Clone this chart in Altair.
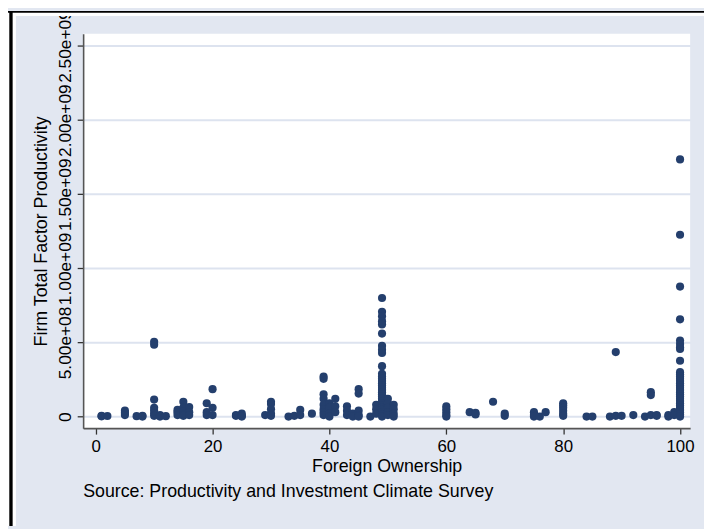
import altair as alt
import pandas as pd

# Foreign ownership levels (%) and firm TFP values at each level (in billions)
own_levels = [1, 2, 5, 7, 8, 10, 11, 12, 14, 15, 16, 19, 20, 24, 25, 29, 30, 33, 34, 35,
              37, 39, 40, 41, 43, 44, 45, 47, 48, 49, 50, 51, 60, 64, 65, 68, 70, 75, 76,
              77, 80, 84, 85, 88, 89, 90, 92, 94, 95, 96, 98, 99, 100]
tfp_by_level = [
    [0.005, 0.002], [0.004], [0.04, 0.025, 0.01], [0.003], [0.005, 0.0],
    [0.505, 0.485, 0.115, 0.06, 0.04, 0.02, 0.005], [0.01, 0.0], [0.003],
    [0.045, 0.03, 0.01], [0.1, 0.06, 0.035, 0.015, 0.005], [0.065, 0.03, 0.01],
    [0.09, 0.03, 0.01], [0.185, 0.06, 0.01], [0.01, 0.005], [0.02, 0.005, 0.0],
    [0.01], [0.1, 0.085, 0.05, 0.02, 0.005], [0.0], [0.005], [0.045, 0.01],
    [0.02], [0.27, 0.255, 0.15, 0.12, 0.08, 0.05, 0.03, 0.01], [0.09, 0.06, 0.02, 0.0],
    [0.12, 0.07, 0.03], [0.07, 0.04, 0.01], [0.02, 0.0], [0.185, 0.155, 0.04, 0.01, 0.0],
    [0.0], [0.08, 0.05, 0.02],
    [0.80, 0.707, 0.677, 0.644, 0.622, 0.56, 0.477, 0.451, 0.429, 0.34, 0.289, 0.27,
     0.255, 0.24, 0.225, 0.21, 0.195, 0.18, 0.165, 0.15, 0.135, 0.12, 0.105, 0.09,
     0.075, 0.06, 0.045, 0.03, 0.015, 0.0],
    [0.12, 0.09, 0.06, 0.03, 0.01], [0.08, 0.05, 0.02, 0.0], [0.07, 0.05, 0.03, 0.01, 0.0],
    [0.03], [0.025, 0.015], [0.1], [0.02, 0.005], [0.03, 0.01, 0.0], [0.0], [0.03],
    [0.09, 0.075, 0.06, 0.04, 0.02, 0.005], [0.0], [0.0], [0.0], [0.435, 0.005],
    [0.005], [0.01], [0.0], [0.165, 0.145, 0.01], [0.01, 0.005], [0.01, 0.0],
    [0.03, 0.01],
    [1.735, 1.227, 0.877, 0.656, 0.513, 0.489, 0.467, 0.456, 0.377, 0.30, 0.285, 0.27,
     0.255, 0.24, 0.225, 0.21, 0.195, 0.18, 0.165, 0.15, 0.135, 0.12, 0.105, 0.09,
     0.075, 0.06, 0.045, 0.03, 0.015, 0.0],
]
x_ticks = [0, 20, 40, 60, 80, 100]
y_ticks = [0, 5e8, 1e9, 1.5e9, 2e9, 2.5e9]
source_note = ["Source: Productivity and Investment Climate Survey"]

rows = []
for lvl, vals in zip(own_levels, tfp_by_level):
    for v in vals:
        rows.append({"own": lvl, "tfp": v * 1e9})
df = pd.DataFrame(rows)

FONT = "Liberation Sans"
NAVY = "#243F6D"
BG = "#E2E7F1"
W, H = 614, 399

points = alt.Chart(df).mark_circle(size=68, opacity=1, color=NAVY).encode(
    x=alt.X("own:Q",
            scale=alt.Scale(domain=[-2.15, 101.73], nice=False, zero=False),
            axis=alt.Axis(values=x_ticks, title="Foreign Ownership", grid=False,
                          labelFontSize=17, titleFontSize=18, labelPadding=5,
                          titleFontWeight="normal", titleBaseline="alphabetic",
                          titleY=44)),
    y=alt.Y("tfp:Q",
            scale=alt.Scale(domain=[-0.078e9, 2.583e9], nice=False, zero=False),
            axis=alt.Axis(values=y_ticks, title="Firm Total Factor Productivity",
                          labelExpr="datum.value == 0 ? '0' : replace(format(datum.value, '.2e'), 'e+', 'e+0')",
                          labelAngle=270, labelAlign="center", labelBaseline="bottom",
                          labelPadding=3, labelFontSize=17.5, labelOverlap=False,
                          titleFontSize=18,
                          titleFontWeight="normal", titleX=-33, titleY=H / 2,
                          grid=True, gridColor="#DDE3EF", gridWidth=2)),
)

note = alt.Chart(pd.DataFrame({"t": source_note})).mark_text(
    align="left", baseline="middle", fontSize=18, font=FONT, color="black"
).encode(text="t:N", x=alt.value(0), y=alt.value(H + 65))

one = pd.DataFrame({"a": [0]})
white_v = alt.Chart(one).mark_rule(color="white", strokeWidth=8).encode(
    x=alt.value(-72), y=alt.value(-23), y2=alt.value(H + 99))
white_h = alt.Chart(one).mark_rule(color="white", strokeWidth=5).encode(
    y=alt.value(-20.5), x=alt.value(-76), x2=alt.value(W + 14))
black_v = alt.Chart(one).mark_rule(color="black", strokeWidth=3.4).encode(
    x=alt.value(-73), y=alt.value(-23), y2=alt.value(H + 99))
black_h = alt.Chart(one).mark_rule(color="black", strokeWidth=1.8).encode(
    y=alt.value(-22.1), x=alt.value(-76), x2=alt.value(W + 14))

chart = alt.layer(white_v, white_h, black_v, black_h, note, points).properties(
    width=W, height=H,
    autosize=alt.AutoSizeParams(type="none"),
    padding={"left": 76, "top": 23, "right": 14, "bottom": 99},
    background=BG,
).configure_view(fill="white", stroke=None).configure_axis(
    labelFont=FONT, titleFont=FONT, labelColor="black", titleColor="black",
    domainColor="#555555", domainWidth=1.6, tickColor="#333333", tickWidth=1.3,
    tickSize=6,
)

chart.save("out.html", embed_options={"renderer": "svg", "actions": False})
